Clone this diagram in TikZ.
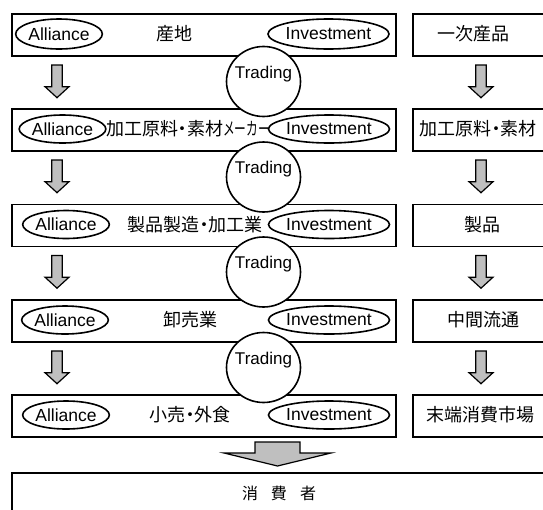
\documentclass[tikz,border=0pt]{standalone}
\usepackage{fontspec}
\setmainfont{Liberation Sans}
\newfontfamily\jp{Noto Sans CJK JP}
\usetikzlibrary{shapes.geometric}

\definecolor{arrowgray}{HTML}{BFBFBF}
% narrow middle dot between words
\newcommand\nakaguro{\makebox[9pt][c]{・}}

\begin{document}
\begin{tikzpicture}[x=1pt,y=-1pt,
  font=\fontsize{17.5}{20}\selectfont,
  rowbox/.style={draw, line width=1.8pt, minimum height=42pt, anchor=north west, inner sep=0pt},
  tag/.style={ellipse, draw, line width=1.6pt, inner sep=0pt, minimum height=28pt},
  trade/.style={ellipse, draw, fill=white, line width=1.6pt, minimum width=74pt, minimum height=70pt, inner sep=0pt},
  jptext/.style={font=\fontsize{18}{20}\selectfont\jp, inner sep=0pt},
  lbl/.style={inner sep=0pt, font=\fontsize{17}{20}\selectfont},
  blockarrow/.style={draw, fill=arrowgray, line width=1.2pt, line join=miter},
  downarrow/.pic={\path[blockarrow] (-5.3,0) -- (5.3,0) -- (5.3,21.7) -- (12,21.7) -- (0,32.7) -- (-12,21.7) -- (-5.3,21.7) -- cycle;},
  bigarrow/.pic={\path[blockarrow] (-22.5,0) -- (22.5,0) -- (22.5,11) -- (53.5,11) -- (0,24) -- (-53.5,11) -- (-22.5,11) -- cycle;}
]
\useasboundingbox (0,0) rectangle (543,509);
\clip (0,0) rectangle (543,509);

% stage boxes (left) and product boxes (right)
\node[rowbox, minimum width=384pt] (s1) at (11,13) {};
\node[rowbox, minimum width=384pt] (s2) at (11,108) {};
\node[rowbox, minimum width=384pt] (s3) at (11,203.5) {};
\node[rowbox, minimum width=384pt] (s4) at (11,299) {};
\node[rowbox, minimum width=384pt] (s5) at (11,394) {};
\node[rowbox, minimum width=140pt] (p1) at (412,13) {};
\node[rowbox, minimum width=140pt] (p2) at (412,108) {};
\node[rowbox, minimum width=140pt] (p3) at (412,203.5) {};
\node[rowbox, minimum width=140pt] (p4) at (412,299) {};
\node[rowbox, minimum width=140pt] (p5) at (412,394) {};
\node[rowbox, minimum width=540pt, minimum height=60pt] (c) at (11,472) {};

% Alliance / Investment tags
\node[tag, minimum width=86pt, minimum height=30pt] (a1) at (59,34) {Alliance};
\node[tag, minimum width=76pt] (a2) at (62.5,129) {Alliance};
\node[tag, minimum width=82pt] (a3) at (66,224.5) {Alliance};
\node[tag, minimum width=84pt] (a4) at (65,320) {Alliance};
\node[tag, minimum width=84pt] (a5) at (66,415) {Alliance};
\node[tag, minimum width=109pt, minimum height=30pt] (i1) at (328.5,34) {Investment};
\node[tag, minimum width=110pt] (i2) at (329,129) {Investment};
\node[tag, minimum width=110pt] (i3) at (329,224.5) {Investment};
\node[tag, minimum width=110pt] (i4) at (329,320) {Investment};
\node[tag, minimum width=110pt] (i5) at (329,415) {Investment};

% stage names
\node[jptext] (n1) at (174,34) {産地};
\node[jptext] (n2) at (188,129) {加工原料\nakaguro 素材\scalebox{0.65}[1]{メーカー}};
\node[jptext] (n3) at (195,224.5) {製品製造\nakaguro 加工業};
\node[jptext] (n4) at (190,320) {卸売業};
\node[jptext] (n5) at (190,415) {小売\nakaguro 外食};

% product names
\node[jptext] (m1) at (473,34) {一次産品};
\node[jptext] (m2) at (478,129) {加工原料\nakaguro 素材};
\node[jptext] (m3) at (482,224.5) {製品};
\node[jptext] (m4) at (483,320) {中間流通};
\node[jptext] (m5) at (480,415) {末端消費市場};

% consumers
\node[jptext, font=\fontsize{16}{18}\selectfont\jp] (cn) at (279,493) {消\hspace{13pt}費\hspace{13pt}者};

% flow arrows
\pic at (57,65) {downarrow};
\pic at (57,160) {downarrow};
\pic at (57,255.5) {downarrow};
\pic at (57,351) {downarrow};
\pic at (481,65) {downarrow};
\pic at (481,160) {downarrow};
\pic at (481,255.5) {downarrow};
\pic at (481,351) {downarrow};
\pic at (277.5,442) {bigarrow};

% trading links between stages
\node[trade] (t1) at (263.5,81.5) {};
\node[trade] (t2) at (263.5,177) {};
\node[trade] (t3) at (263.5,272) {};
\node[trade] (t4) at (263.5,367.5) {};
\node[lbl] (tt1) at (263.5,74) {Trading};
\node[lbl] (tt2) at (263.5,169.5) {Trading};
\node[lbl] (tt3) at (263.5,264.5) {Trading};
\node[lbl] (tt4) at (263.5,360) {Trading};
\end{tikzpicture}
\end{document}
